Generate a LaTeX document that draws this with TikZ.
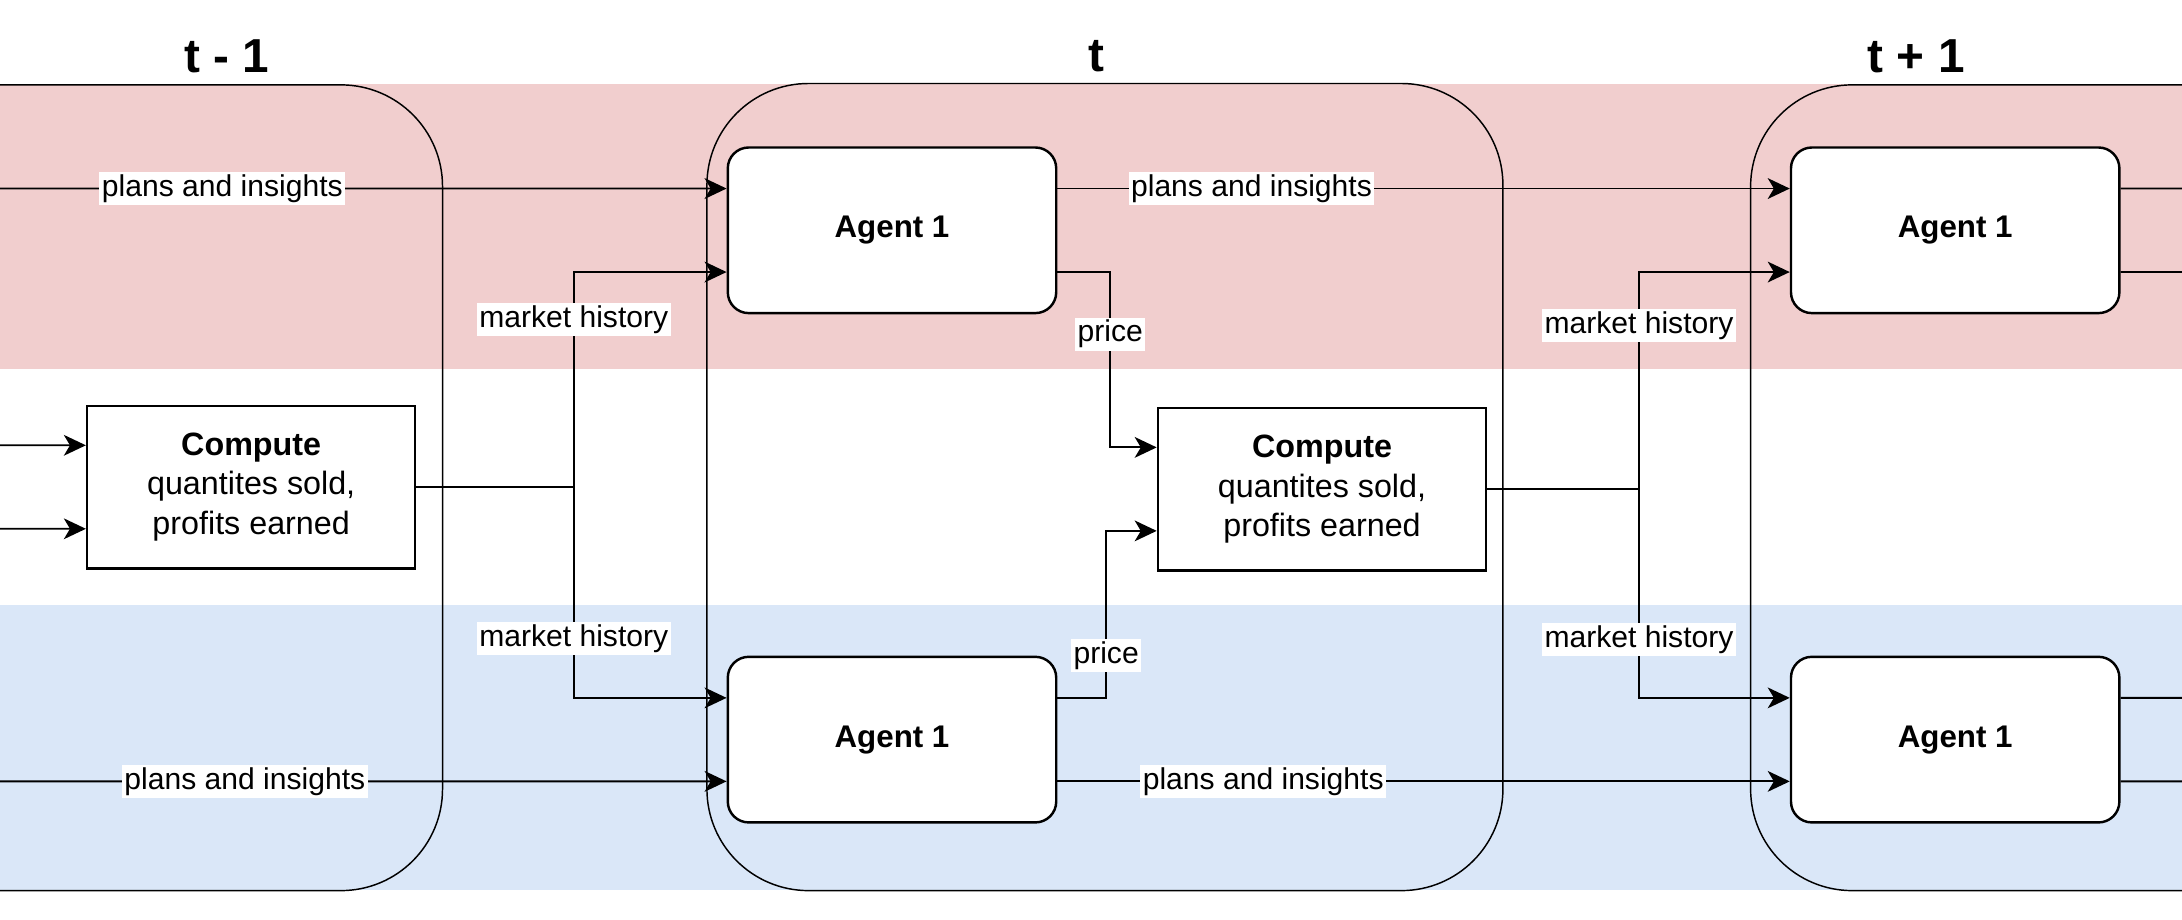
\documentclass[tikz,border=0pt]{standalone}
\usepackage{fontspec}
\setmainfont{Liberation Sans}
\usetikzlibrary{positioning, arrows.meta}

\definecolor{bandred}{RGB}{241,206,206}
\definecolor{bandblue}{RGB}{218,231,248}

\begin{document}
\begin{tikzpicture}[x=0.2mm, y=-0.2mm, >={Stealth[length=9pt, width=8.5pt, inset=2.5pt]},
        agent/.style={draw, fill=white, rounded corners=3mm, line width=1pt, minimum width=47.2mm, minimum height=23.8mm, font=\fontsize{12.8}{15}\selectfont\bfseries},
        market/.style={draw, fill=white, line width=0.9pt, minimum width=47.2mm, minimum height=23.4mm, align=center, font=\fontsize{13.2}{16.2}\selectfont},
        lbl/.style={fill=white, inner sep=1pt, font=\fontsize{12.3}{14}\selectfont},
        period/.style={font=\fontsize{19.5}{22}\selectfont\bfseries},
        frame/.style={line width=0.6pt, rounded corners=14.6mm},
        flow/.style={->, line width=0.75pt}]
        \useasboundingbox (0,0) rectangle (1568,661);
        % bands
        \fill[bandred] (0,60.5) rectangle (1568,265);
        \fill[bandblue] (0,435) rectangle (1568,639.5);
        % time steps
        \draw[frame] (0,61) -- (318,61) -- (318,640) -- (0,640);
        \draw[frame] (508,60) rectangle (1080,640);
        \draw[frame] (1568,61) -- (1258,61) -- (1258,640) -- (1568,640);
        \node[period] (tPrev) at (163,40.5) {t - 1};
        \node[period] (tNow) at (788,40.5) {t};
        \node[period] (tNext) at (1377,40.5) {t + 1};
        % nodes
        \node[market] (cmpPrev) at (180.5,350) {\textbf{Compute}\\quantites sold,\\profits earned};
        \node[market] (cmpNow) at (950,351.5) {\textbf{Compute}\\quantites sold,\\profits earned};
        \node[agent] (agTop) at (641,165.5) {Agent 1};
        \node[agent] (agBot) at (641,531.5) {Agent 1};
        \node[agent] (agTopN) at (1405,165.5) {Agent 1};
        \node[agent] (agBotN) at (1405,531.5) {Agent 1};
        \coordinate (inP) at (0,135.5);
        \coordinate (inQ) at (0,561.5);
        \coordinate (inU) at (0,320);
        \coordinate (inV) at (0,380);
        \coordinate (outP) at (1568,135.5);
        \coordinate (outQ) at (1568,195.5);
        \coordinate (outR) at (1568,501.5);
        \coordinate (outS) at (1568,561.5);
        % connectors
        \draw[flow] (inP) -- node[lbl, pos=0.306] {plans and insights} ([yshift=6mm]agTop.west);
        \draw[flow] (inQ) -- node[lbl, pos=0.337] {plans and insights} ([yshift=-6mm]agBot.west);
        \draw[flow] (inU) -- ([yshift=6mm]cmpPrev.west);
        \draw[flow] (inV) -- ([yshift=-6mm]cmpPrev.west);
        \draw[flow] (cmpPrev.east) -- ++(113,0) coordinate (jPrev) |- node[lbl, pos=0.39] {market history} ([yshift=-6mm]agTop.west);
        \draw[flow] (jPrev) |- node[lbl, pos=0.36] {market history} ([yshift=6mm]agBot.west);
        \draw[flow] ([yshift=-6mm]agTop.east) -- ++(38,0) |- node[lbl, pos=0.177] {price} ([yshift=6mm]cmpNow.west);
        \draw[flow] ([yshift=6mm]agBot.east) -- ++(35,0) |- node[lbl, pos=0.127] {price} ([yshift=-6mm]cmpNow.west);
        \draw[flow] ([yshift=6mm]agTop.east) -- node[lbl, pos=0.265] {plans and insights} ([yshift=6mm]agTopN.west);
        \draw[flow] ([yshift=-6mm]agBot.east) -- node[lbl, pos=0.281] {plans and insights} ([yshift=-6mm]agBotN.west);
        \draw[flow] (cmpNow.east) -- ++(109,0) coordinate (jNow) |- node[lbl, pos=0.377] {market history} ([yshift=-6mm]agTopN.west);
        \draw[flow] (jNow) |- node[lbl, pos=0.36] {market history} ([yshift=6mm]agBotN.west);
        \draw[line width=0.75pt] ([yshift=6mm]agTopN.east) -- (outP);
        \draw[line width=0.75pt] ([yshift=-6mm]agTopN.east) -- (outQ);
        \draw[line width=0.75pt] ([yshift=6mm]agBotN.east) -- (outR);
        \draw[line width=0.75pt] ([yshift=-6mm]agBotN.east) -- (outS);
\end{tikzpicture}
\end{document}
